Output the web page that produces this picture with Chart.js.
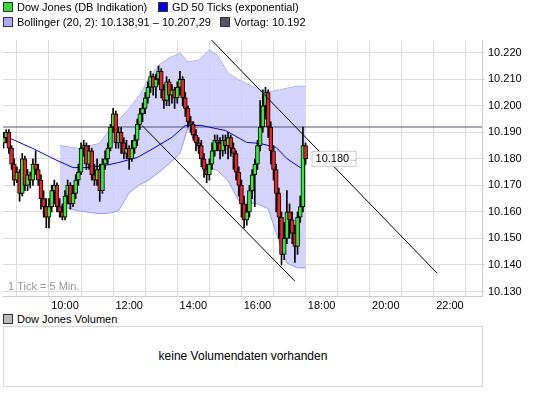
<!DOCTYPE html>
<html><head><meta charset="utf-8">
<script src="https://cdn.jsdelivr.net/npm/chart.js@4"></script>
<style>
body{margin:0;background:#fff;font-family:"Liberation Sans",Arial,sans-serif;font-size:11px;color:#000}
#wrap{position:relative;width:545px;height:408px}
.lg{position:absolute;white-space:nowrap}
.sq{display:inline-block;width:8px;height:8px;border:1px solid #333;margin-right:4px;vertical-align:-1px}
canvas{position:absolute;left:0;top:0}
#vol{position:absolute;left:3px;top:326px;width:478px;height:59px;border:1px solid #d8d8d8;text-align:center;line-height:59px;font-size:12px}
</style></head><body>
<div id="wrap">
<canvas id="c" width="545" height="312"></canvas>
<div class="lg" style="left:3px;top:1px"><span class="sq" style="background:#33dd33"></span>Dow Jones (DB Indikation)</div>
<div class="lg" style="left:158px;top:1px"><span class="sq" style="background:#0000ee"></span>GD 50 Ticks (exponential)</div>
<div class="lg" style="left:3px;top:16px"><span class="sq" style="background:#aaaaff"></span>Bollinger (20, 2): 10.138,91 – 10.207,29</div>
<div class="lg" style="left:220px;top:16px"><span class="sq" style="background:#555566"></span>Vortag: 10.192</div>
<div class="lg" style="left:3px;top:313px"><span class="sq" style="background:#bbbbbb"></span>Dow Jones Volumen</div>
<div id="vol">keine Volumendaten vorhanden</div>
</div>
<script>
const startMin = 485, stepMin = 5;
const opens = [10.186,10.188,10.190,10.184,10.178,10.172,10.175,10.167,10.180,10.170,10.174,10.172,10.178,10.176,10.172,10.165,10.162,10.158,10.162,10.168,10.170,10.162,10.160,10.158,10.166,10.170,10.163,10.167,10.172,10.175,10.184,10.185,10.178,10.183,10.174,10.172,10.176,10.168,10.178,10.180,10.184,10.192,10.197,10.186,10.190,10.186,10.182,10.184,10.180,10.184,10.187,10.193,10.197,10.199,10.203,10.207,10.211,10.207,10.210,10.213,10.206,10.202,10.209,10.204,10.206,10.203,10.207,10.210,10.203,10.199,10.194,10.193,10.189,10.186,10.185,10.180,10.176,10.174,10.178,10.183,10.187,10.186,10.183,10.187,10.185,10.188,10.184,10.182,10.175,10.170,10.163,10.157,10.160,10.168,10.174,10.178,10.185,10.192,10.200,10.205,10.192,10.183,10.176,10.167,10.158,10.144,10.150,10.160,10.157,10.152,10.147,10.158,10.162,10.185];
const highs = [10.190,10.191,10.191,10.185,10.180,10.177,10.176,10.182,10.181,10.176,10.175,10.180,10.183,10.178,10.174,10.168,10.165,10.165,10.170,10.172,10.171,10.165,10.163,10.168,10.172,10.171,10.170,10.174,10.178,10.186,10.187,10.186,10.185,10.184,10.178,10.180,10.178,10.180,10.183,10.186,10.193,10.199,10.198,10.192,10.192,10.188,10.187,10.185,10.187,10.189,10.195,10.199,10.201,10.205,10.209,10.213,10.212,10.212,10.215,10.214,10.208,10.211,10.210,10.208,10.207,10.209,10.213,10.211,10.205,10.200,10.196,10.194,10.191,10.188,10.187,10.182,10.178,10.180,10.186,10.189,10.189,10.188,10.189,10.189,10.190,10.189,10.186,10.183,10.177,10.172,10.166,10.163,10.170,10.176,10.180,10.187,10.202,10.206,10.207,10.206,10.194,10.185,10.178,10.169,10.160,10.156,10.168,10.163,10.160,10.155,10.160,10.166,10.192,10.186];
const lows = [10.184,10.186,10.182,10.176,10.170,10.171,10.164,10.166,10.168,10.168,10.169,10.170,10.174,10.170,10.161,10.158,10.154,10.154,10.160,10.163,10.160,10.158,10.157,10.157,10.163,10.161,10.162,10.165,10.170,10.174,10.181,10.176,10.176,10.172,10.170,10.170,10.164,10.167,10.176,10.178,10.183,10.190,10.184,10.184,10.182,10.180,10.180,10.176,10.179,10.182,10.185,10.191,10.194,10.197,10.201,10.205,10.204,10.203,10.208,10.203,10.199,10.200,10.200,10.201,10.199,10.201,10.204,10.200,10.196,10.192,10.190,10.187,10.183,10.182,10.177,10.173,10.171,10.172,10.176,10.181,10.183,10.180,10.181,10.182,10.180,10.181,10.176,10.172,10.166,10.158,10.154,10.155,10.158,10.165,10.162,10.176,10.183,10.190,10.195,10.188,10.178,10.172,10.160,10.150,10.140,10.142,10.148,10.150,10.148,10.141,10.144,10.156,10.160,10.178];
const closes = [10.188,10.190,10.184,10.178,10.172,10.175,10.167,10.180,10.170,10.174,10.172,10.178,10.176,10.172,10.165,10.162,10.158,10.162,10.168,10.170,10.162,10.160,10.158,10.166,10.170,10.163,10.167,10.172,10.175,10.184,10.185,10.178,10.183,10.174,10.172,10.176,10.168,10.178,10.180,10.184,10.192,10.197,10.186,10.190,10.186,10.182,10.184,10.180,10.184,10.187,10.193,10.197,10.199,10.203,10.207,10.211,10.207,10.210,10.213,10.206,10.202,10.209,10.204,10.206,10.203,10.207,10.210,10.203,10.199,10.194,10.193,10.189,10.186,10.185,10.180,10.176,10.174,10.178,10.183,10.187,10.186,10.183,10.187,10.185,10.188,10.184,10.182,10.175,10.170,10.163,10.157,10.160,10.168,10.174,10.178,10.185,10.192,10.200,10.205,10.192,10.183,10.176,10.167,10.158,10.144,10.150,10.160,10.157,10.152,10.147,10.158,10.162,10.185,10.180];

const emaTimes = [490,540,585,615,640,675,700,735,765,800,825,855,880,900,940,965,995,1015,1040,1050];
const emaValues = [10.1884,10.1839,10.1794,10.1767,10.1767,10.1775,10.1786,10.1805,10.1839,10.1881,10.1926,10.1926,10.1915,10.1907,10.1862,10.1858,10.1843,10.1801,10.1767,10.1775];

const bandTimes = [590,625,665,685,700,720,740,755,775,795,815,830,850,870,885,905,925,945,960,980,1000,1015,1035,1050];
const bandUpper = [10.185,10.1839,10.1858,10.1915,10.1945,10.199,10.204,10.2097,10.2153,10.218,10.2199,10.2165,10.2172,10.221,10.219,10.2123,10.2097,10.2078,10.2066,10.2051,10.2059,10.2066,10.2074,10.2073];
const bandLower = [10.1623,10.1604,10.1593,10.1596,10.1604,10.1672,10.1703,10.1718,10.1748,10.1782,10.182,10.1918,10.1831,10.1767,10.1756,10.1718,10.1642,10.1634,10.163,10.1612,10.1491,10.1407,10.1389,10.1389];

const prevClose = 10.192;
const trendA = [[874,10.2248],[1296,10.1369]];
const trendB = [[744,10.1926],[1030,10.1339]];
const xMin = 484, xMax = 1380, yMin = 10.1283, yMax = 10.2248;
const yTickValues = [10.13,10.14,10.15,10.16,10.17,10.18,10.19,10.20,10.21,10.22];

const times = closes.map((_, i) => startMin + i*stepMin);
const bodies = times.map((t,i)=>({x:t,y:[Math.min(opens[i],closes[i]),Math.max(opens[i],closes[i])]}));
const wicks = times.map((t,i)=>({x:t,y:[lows[i],highs[i]]}));
const bodyColors = closes.map((c,i)=> c>=opens[i] ? '#33ee33' : '#ee2222');
const pts = (ts,vs)=>ts.map((t,i)=>({x:t,y:vs[i]}));
const lineDs = (data,color,extra)=>Object.assign({type:'line',data,borderColor:color,borderWidth:1,pointRadius:0,fill:false,tension:0},extra||{});

const overlay = {
  id:'overlay',
  afterDatasetsDraw(chart){
    const {ctx, scales:{x,y}, chartArea:a} = chart;
    ctx.save();
    ctx.fillStyle='#999';ctx.font='11px "Liberation Sans", Arial';ctx.textBaseline='alphabetic';
    ctx.fillText('1 Tick = 5 Min.', a.left+5, a.bottom-6);
    const last = closes.length-1;
    const px = x.getPixelForValue(times[last])+6, py = y.getPixelForValue(closes[last]);
    ctx.fillStyle='#fff';ctx.strokeStyle='#cccccc';ctx.lineWidth=1;
    ctx.fillRect(px+0.5,py-7.5,44,15);ctx.strokeRect(px+0.5,py-7.5,44,15);
    ctx.fillStyle='#000';ctx.textBaseline='middle';
    ctx.fillText(closes[last].toFixed(3), px+4, py+0.5);
    ctx.fillStyle='#aaa';ctx.fillText('→', px+36, py);
    ctx.restore();
  }
};

new Chart(document.getElementById('c'),{
  type:'bar',
  data:{datasets:[
    lineDs(pts(bandTimes,bandUpper),'#9999ff',{order:10}),
    lineDs(pts(bandTimes,bandLower),'#9999ff',{order:9,fill:{target:0},backgroundColor:'rgba(204,204,255,0.85)'}),
    lineDs([{x:xMin,y:prevClose},{x:xMax,y:prevClose}],'#555577',{order:8}),
    lineDs(pts(emaTimes,emaValues),'#0000ee',{order:7}),
    {type:'bar',data:wicks,backgroundColor:'#000',borderWidth:0,barThickness:1,grouped:false,order:6},
    {type:'bar',data:bodies,backgroundColor:bodyColors,borderColor:'#000',borderWidth:1,borderSkipped:false,barThickness:4,grouped:false,order:5,minBarLength:1},
    lineDs(trendA.map(p=>({x:p[0],y:p[1]})),'#000',{order:1}),
    lineDs(trendB.map(p=>({x:p[0],y:p[1]})),'#000',{order:1})
  ]},
  options:{
    responsive:false,animation:false,
    layout:{padding:{left:3,top:40,right:0,bottom:0}},
    plugins:{legend:{display:false},tooltip:{enabled:false}},
    scales:{
      x:{type:'linear',min:xMin,max:xMax,offset:false,
        afterBuildTicks(s){s.ticks=[];for(let v=540;v<=xMax;v+=60)s.ticks.push({value:v});},
        afterFit(s){s.height=16;},
        grid:{color:'#dddddd',drawTicks:false,lineWidth:1},
        border:{color:'#cccccc'},
        ticks:{maxRotation:0,autoSkip:false,padding:3,color:'#000',font:{family:'Liberation Sans',size:11},
          callback:v=> (v%120===0 && v<xMax) ? String(v/60).padStart(2,'0')+':00' : ''}},
      y:{position:'right',min:yMin,max:yMax,
        afterBuildTicks(s){s.ticks=yTickValues.map(v=>({value:v}));},
        afterFit(s){s.width=63;},
        grid:{color:'#dddddd',drawTicks:true,tickLength:3},
        border:{color:'#cccccc'},
        ticks:{padding:3,color:'#000',font:{family:'Liberation Sans',size:11},callback:v=>v.toFixed(3)}}
    }
  },
  plugins:[overlay]
});
</script>
</body></html>
